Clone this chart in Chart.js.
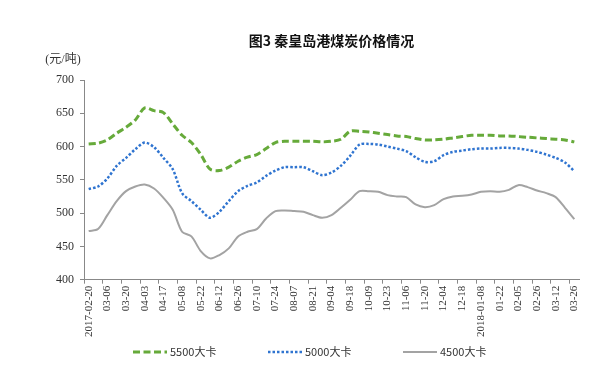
<!DOCTYPE html>
<html>
<head>
<meta charset="utf-8">
<script src="https://cdn.jsdelivr.net/npm/chart.js@4.4.1/dist/chart.umd.min.js"></script>
<style>
  html, body { margin: 0; padding: 0; background: #fff; }
  #wrap { width: 597px; height: 371px; }
</style>
</head>
<body>
<div id="wrap"><canvas id="priceChart"></canvas></div>
<script>
// weekly dates, only every second one is printed on the axis
const dates = [
  "2017-02-20", "02-27", "03-06", "03-13", "03-20", "03-27", "04-03", "04-10", "04-17", "04-24",
  "05-08", "05-15", "05-22", "06-05", "06-12", "06-19", "06-26", "07-03", "07-10", "07-17",
  "07-24", "07-31", "08-07", "08-14", "08-21", "08-28", "09-04", "09-11", "09-18", "09-25",
  "10-09", "10-16", "10-23", "10-30", "11-06", "11-13", "11-20", "11-27", "12-04", "12-11",
  "12-18", "12-25", "2018-01-08", "01-15", "01-22", "01-29", "02-05", "02-12", "02-26", "03-05",
  "03-12", "03-19", "03-26"
];

const price5500 = [
  604, 605, 610, 620, 629, 640, 658, 654, 651, 634,
  617, 606, 588, 566, 564, 569, 578, 584, 588, 597,
  606, 608, 608, 608, 608, 607, 608, 611, 623, 623,
  622, 620, 618, 616, 615, 612, 610, 610, 611, 613,
  615, 617, 617, 617, 616, 616, 615, 614, 613, 612,
  611, 610, 607
];

const price5000 = [
  536, 540, 552, 571, 583, 596, 606, 599, 583, 566,
  530, 518, 505, 493, 502, 518, 533, 541, 546, 556,
  564, 569, 569, 569, 563, 557, 561, 571, 586, 603,
  604, 603, 600, 597, 593, 584, 577, 578, 587, 592,
  594, 596, 597, 597, 598, 598, 597, 595, 592, 588,
  583, 576, 563
];

const price4500 = [
  473, 476, 497, 518, 533, 540, 543, 537, 523, 505,
  472, 465, 443, 432, 437, 447, 465, 472, 476, 492,
  503, 504, 503, 502, 497, 493, 497, 508, 520, 533,
  533, 532, 527, 525, 524, 513, 509, 512, 521, 525,
  526, 528, 532, 533, 532, 535, 542, 539, 534, 530,
  524, 508, 491
];

const seriesNames = ["5500大卡", "5000大卡", "4500大卡"];
const yTicks = [400, 450, 500, 550, 600, 650, 700];
const unitText = "(元/吨)";
const titleText = "图3 秦皇岛港煤炭价格情况";

const cjk = '"Noto Sans CJK SC", "DejaVu Sans", sans-serif';
const serif = '"Liberation Serif", "Noto Sans CJK SC", serif';

// title (centred over the plot, not the canvas) and the unit text above the y axis
const headerPlugin = {
  id: "header",
  afterDraw(chart) {
    const ctx = chart.ctx;
    const area = chart.chartArea;
    ctx.save();
    ctx.textAlign = "center";
    ctx.textBaseline = "middle";
    ctx.fillStyle = "#111";
    ctx.font = "bold 14px " + cjk;
    ctx.fillText(titleText, (area.left + area.right) / 2, 41);
    ctx.font = "12px " + serif;
    ctx.fillStyle = "#333";
    ctx.fillText(unitText, area.left - 21, area.top - 20);
    ctx.restore();
  }
};

// legend with line samples, drawn by hand so dashes and gaps look like the original
const lineLegendPlugin = {
  id: "lineLegend",
  afterDraw(chart) {
    const ctx = chart.ctx;
    const y = chart.height - 19;
    let x = chart.chartArea.left + 49;
    ctx.save();
    ctx.font = "11px " + cjk;
    ctx.textBaseline = "middle";
    chart.data.datasets.forEach((ds) => {
      ctx.beginPath();
      ctx.strokeStyle = ds.borderColor;
      ctx.lineWidth = ds.borderWidth;
      ctx.setLineDash(ds.borderDash || []);
      ctx.moveTo(x, y);
      ctx.lineTo(x + 34, y);
      ctx.stroke();
      ctx.setLineDash([]);
      ctx.fillStyle = "#333";
      ctx.fillText(ds.label, x + 37, y);
      x += 135;
    });
    ctx.restore();
  }
};

new Chart(document.getElementById("priceChart"), {
  type: "line",
  data: {
    labels: dates,
    datasets: [
      {
        label: seriesNames[0],
        data: price5500,
        borderColor: "#66aa3a",
        backgroundColor: "transparent",
        borderWidth: 3,
        borderDash: [7, 3.5],
        pointRadius: 0,
        tension: 0.3
      },
      {
        label: seriesNames[1],
        data: price5000,
        borderColor: "#2f74d0",
        backgroundColor: "transparent",
        borderWidth: 2.5,
        borderDash: [2.5, 2],
        pointRadius: 0,
        tension: 0.3
      },
      {
        label: seriesNames[2],
        data: price4500,
        borderColor: "#a3a3a3",
        backgroundColor: "transparent",
        borderWidth: 2,
        pointRadius: 0,
        tension: 0.3
      }
    ]
  },
  plugins: [headerPlugin, lineLegendPlugin],
  options: {
    responsive: true,
    maintainAspectRatio: false,
    animation: false,
    layout: { padding: { left: 50, right: 18, top: 80, bottom: 32 } },
    plugins: {
      title: { display: false },
      legend: { display: false },
      tooltip: { enabled: false }
    },
    scales: {
      x: {
        offset: true,
        border: { color: "#888", width: 1 },
        grid: {
          offset: true,
          drawOnChartArea: false,
          tickLength: 4,
          color: (c) => (c.index % 2 === 0 ? "#888" : "rgba(0,0,0,0)")
        },
        ticks: {
          autoSkip: false,
          maxRotation: 90,
          minRotation: 90,
          color: "#333",
          padding: 2,
          font: { family: serif, size: 11 },
          callback: (v, i) => (i % 2 === 0 ? dates[i] : "")
        }
      },
      y: {
        min: yTicks[0],
        max: yTicks[yTicks.length - 1],
        border: { color: "#888", width: 1 },
        grid: { drawOnChartArea: false, tickLength: 4, color: "#888" },
        ticks: {
          stepSize: 50,
          color: "#333",
          padding: 6,
          font: { family: serif, size: 12 }
        }
      }
    }
  }
});
</script>
</body>
</html>
